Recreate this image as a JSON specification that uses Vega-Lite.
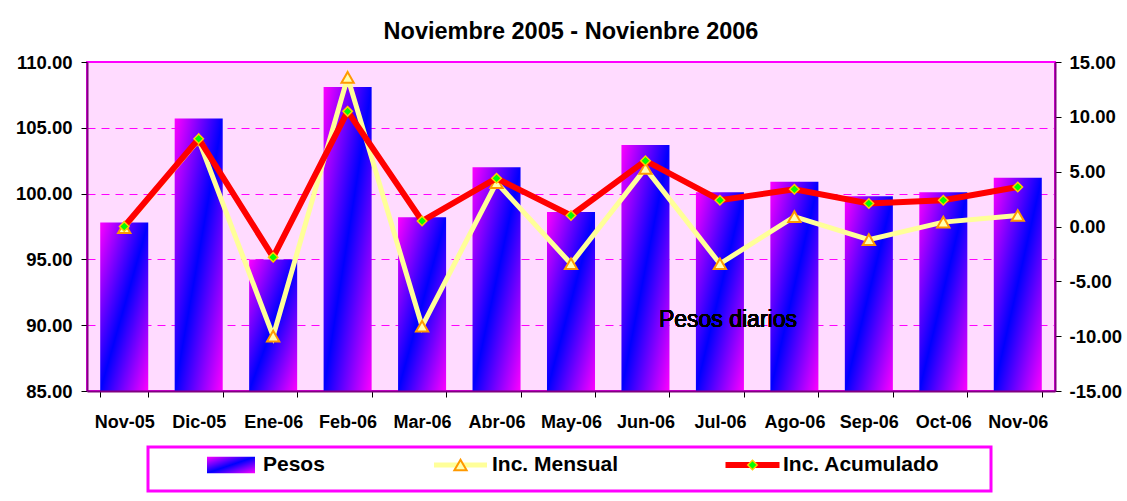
{
  "$schema": "https://vega.github.io/schema/vega-lite/v6.json",
  "background": "white",
  "padding": {"left": 14, "top": 18, "right": 2, "bottom": 2},
  "config": {"font": "Liberation Sans", "view": {"stroke": null}},
  "datasets": {
    "meses": [
      {"mes": "Nov-05", "pesos": 97.8, "mensual": -0.1, "acumulado": 0.0},
      {"mes": "Dic-05", "pesos": 105.7, "mensual": 7.9, "acumulado": 8.0},
      {"mes": "Ene-06", "pesos": 95.0, "mensual": -10.0, "acumulado": -2.8},
      {"mes": "Feb-06", "pesos": 108.1, "mensual": 13.6, "acumulado": 10.5},
      {"mes": "Mar-06", "pesos": 98.2, "mensual": -9.1, "acumulado": 0.5},
      {"mes": "Abr-06", "pesos": 102.0, "mensual": 4.0, "acumulado": 4.4},
      {"mes": "May-06", "pesos": 98.6, "mensual": -3.4, "acumulado": 1.0},
      {"mes": "Jun-06", "pesos": 103.7, "mensual": 5.3, "acumulado": 6.0},
      {"mes": "Jul-06", "pesos": 100.1, "mensual": -3.4, "acumulado": 2.4},
      {"mes": "Ago-06", "pesos": 100.9, "mensual": 0.9, "acumulado": 3.4},
      {"mes": "Sep-06", "pesos": 99.8, "mensual": -1.2, "acumulado": 2.1},
      {"mes": "Oct-06", "pesos": 100.1, "mensual": 0.4, "acumulado": 2.4},
      {"mes": "Nov-06", "pesos": 101.2, "mensual": 1.0, "acumulado": 3.6}
    ],
    "leyenda": [
      {"item": "Pesos"},
      {"item": "Inc. Mensual"},
      {"item": "Inc. Acumulado"}
    ]
  },
  "spacing": 13,
  "vconcat": [
    {
      "title": {"text": "Noviembre 2005 - Novienbre 2006", "fontSize": 23.5, "fontWeight": "bold", "font": "Liberation Sans", "color": "black", "offset": 10, "anchor": "middle"},
      "width": 968,
      "height": 329,
      "data": {"name": "meses"},
      "view": {"fill": "#FFDBFF", "stroke": "#FF00FF", "strokeWidth": 2},
      "encoding": {
        "x": {
          "field": "mes", "type": "nominal", "sort": null,
          "scale": {"paddingInner": 0.355, "paddingOuter": 0.1775},
          "axis": {"title": null, "tickBand": "extent", "labelAngle": 0, "labelFont": "Liberation Sans", "labelFontSize": 18, "labelFontWeight": "bold", "labelColor": "black", "labelPadding": 16, "tickSize": 6, "tickColor": "black", "domainColor": "#800080", "domainWidth": 2, "zindex": 1}
        }
      },
      "layer": [
        {
          "layer": [
            {
              "mark": {"type": "bar", "fill": {"gradient": "linear", "x1": 0, "y1": 0, "x2": 1, "y2": 1, "stops": [{"offset": 0, "color": "#FF00FF"}, {"offset": 0.5, "color": "#0000FF"}, {"offset": 1, "color": "#FF00FF"}]}},
              "encoding": {
                "y": {
                  "field": "pesos", "type": "quantitative",
                  "scale": {"domain": [85, 110], "zero": false, "nice": false},
                  "axis": {"orient": "left", "title": null, "values": [85, 90, 95, 100, 105, 110], "labelExpr": "replace(format(datum.value, '.2f'), '\u2212', '-')", "grid": true, "gridColor": "#FF00FF", "gridDash": [8, 6], "gridWidth": 1, "domainColor": "#800080", "domainWidth": 2, "tickColor": "black", "tickSize": 6, "labelFont": "Liberation Sans", "labelFontSize": 18.5, "labelFontWeight": "bold", "labelColor": "black", "labelPadding": 9}
                },
                "y2": {"datum": 85}
              }
            },
            {
              "mark": {"type": "text", "text": "Pesos diarios", "font": "Liberation Sans", "fontSize": 23, "align": "center", "baseline": "alphabetic", "dx": 8, "color": "black"},
              "encoding": {
                "x": {"datum": "Jul-06"},
                "y": {"datum": 89.9, "type": "quantitative"}
              }
            }
          ]
        },
        {
          "layer": [
            {
              "mark": {"type": "line", "color": "#FFFF99", "strokeWidth": 5},
              "encoding": {
                "y": {"field": "mensual", "type": "quantitative", "scale": {"domain": [-15, 15], "nice": false, "zero": false},
                  "axis": {"orient": "right", "title": null, "values": [-15, -10, -5, 0, 5, 10, 15], "labelExpr": "replace(format(datum.value, '.2f'), '\u2212', '-')", "grid": false, "domainColor": "#800080", "domainWidth": 2, "tickColor": "black", "tickSize": 6, "labelFont": "Liberation Sans", "labelFontSize": 18.5, "labelFontWeight": "bold", "labelColor": "black", "labelPadding": 8}}
              }
            },
            {
              "mark": {"type": "point", "shape": "triangle-up", "filled": true, "fill": "#FFFFB0", "stroke": "#FF9900", "strokeWidth": 2, "size": 150, "opacity": 1},
              "encoding": {
                "y": {"field": "mensual", "type": "quantitative",
                  "axis": {"orient": "right", "title": null, "values": [-15, -10, -5, 0, 5, 10, 15], "labelExpr": "replace(format(datum.value, '.2f'), '\u2212', '-')", "grid": false, "domainColor": "#800080", "domainWidth": 2, "tickColor": "black", "tickSize": 6, "labelFont": "Liberation Sans", "labelFontSize": 18.5, "labelFontWeight": "bold", "labelColor": "black", "labelPadding": 8}}
              }
            },
            {
              "mark": {"type": "line", "color": "#FF0000", "strokeWidth": 6},
              "encoding": {
                "y": {"field": "acumulado", "type": "quantitative",
                  "axis": {"orient": "right", "title": null, "values": [-15, -10, -5, 0, 5, 10, 15], "labelExpr": "replace(format(datum.value, '.2f'), '\u2212', '-')", "grid": false, "domainColor": "#800080", "domainWidth": 2, "tickColor": "black", "tickSize": 6, "labelFont": "Liberation Sans", "labelFontSize": 18.5, "labelFontWeight": "bold", "labelColor": "black", "labelPadding": 8}}
              }
            },
            {
              "mark": {"type": "point", "shape": "diamond", "filled": true, "fill": "#00FF00", "stroke": "#FFCC00", "strokeWidth": 1.5, "size": 90, "opacity": 1},
              "encoding": {
                "y": {"field": "acumulado", "type": "quantitative",
                  "axis": {"orient": "right", "title": null, "values": [-15, -10, -5, 0, 5, 10, 15], "labelExpr": "replace(format(datum.value, '.2f'), '\u2212', '-')", "grid": false, "domainColor": "#800080", "domainWidth": 2, "tickColor": "black", "tickSize": 6, "labelFont": "Liberation Sans", "labelFontSize": 18.5, "labelFontWeight": "bold", "labelColor": "black", "labelPadding": 8}}
              }
            }
          ]
        }
      ],
      "resolve": {"scale": {"y": "independent"}}
    },
    {
      "spacing": 0,
      "hconcat": [
        {
          "width": 59,
          "height": 44,
          "data": {"name": "leyenda"},
          "mark": {"type": "point", "opacity": 0}
        },
        {
          "width": 843,
          "height": 44,
          "data": {"name": "leyenda"},
          "view": {"stroke": "#FF00FF", "strokeWidth": 3, "fill": "white"},
          "encoding": {
            "x": {"field": "item", "type": "nominal", "sort": ["Pesos", "Inc. Mensual", "Inc. Acumulado"], "axis": null, "scale": {"type": "band", "paddingInner": 0, "paddingOuter": 0}}
          },
          "layer": [
            {
              "transform": [{"filter": "datum.item == 'Pesos'"}],
              "mark": {"type": "point", "shape": "M-1,-0.34L1,-0.34L1,0.34L-1,0.34Z", "filled": true, "fill": {"gradient": "linear", "x1": 0, "y1": 0, "x2": 1, "y2": 1, "stops": [{"offset": 0, "color": "#FF00FF"}, {"offset": 0.5, "color": "#0000FF"}, {"offset": 1, "color": "#FF00FF"}]}, "strokeWidth": 0, "size": 2304, "opacity": 1, "xOffset": -57.5, "yOffset": -4}
            },
            {
              "transform": [{"filter": "datum.item == 'Inc. Mensual'"}],
              "mark": {"type": "point", "shape": "M-1,0L1,0", "filled": false, "stroke": "#FFFF99", "strokeWidth": 5, "size": 2809, "opacity": 1, "xOffset": -109, "yOffset": -4}
            },
            {
              "transform": [{"filter": "datum.item == 'Inc. Mensual'"}],
              "mark": {"type": "point", "shape": "triangle-up", "filled": true, "fill": "#FFFFB0", "stroke": "#FF9900", "strokeWidth": 2, "size": 150, "opacity": 1, "xOffset": -109, "yOffset": -4}
            },
            {
              "transform": [{"filter": "datum.item == 'Inc. Acumulado'"}],
              "mark": {"type": "point", "shape": "M-1,0L1,0", "filled": false, "stroke": "#FF0000", "strokeWidth": 6, "size": 2916, "opacity": 1, "xOffset": -98, "yOffset": -4}
            },
            {
              "transform": [{"filter": "datum.item == 'Inc. Acumulado'"}],
              "mark": {"type": "point", "shape": "diamond", "filled": true, "fill": "#00FF00", "stroke": "#FFCC00", "strokeWidth": 1.5, "size": 90, "opacity": 1, "xOffset": -98, "yOffset": -4}
            },
            {
              "transform": [{"filter": "datum.item == 'Pesos'"}],
              "mark": {"type": "text", "align": "left", "baseline": "middle", "font": "Liberation Sans", "fontSize": 21, "fontWeight": "bold", "color": "black", "dx": -25.5, "dy": -4},
              "encoding": {"text": {"field": "item"}}
            },
            {
              "transform": [{"filter": "datum.item == 'Inc. Mensual'"}],
              "mark": {"type": "text", "align": "left", "baseline": "middle", "font": "Liberation Sans", "fontSize": 21, "fontWeight": "bold", "color": "black", "dx": -77.5, "dy": -4},
              "encoding": {"text": {"field": "item"}}
            },
            {
              "transform": [{"filter": "datum.item == 'Inc. Acumulado'"}],
              "mark": {"type": "text", "align": "left", "baseline": "middle", "font": "Liberation Sans", "fontSize": 21, "fontWeight": "bold", "color": "black", "dx": -67.5, "dy": -4},
              "encoding": {"text": {"field": "item"}}
            }
          ]
        }
      ]
    }
  ]
}
